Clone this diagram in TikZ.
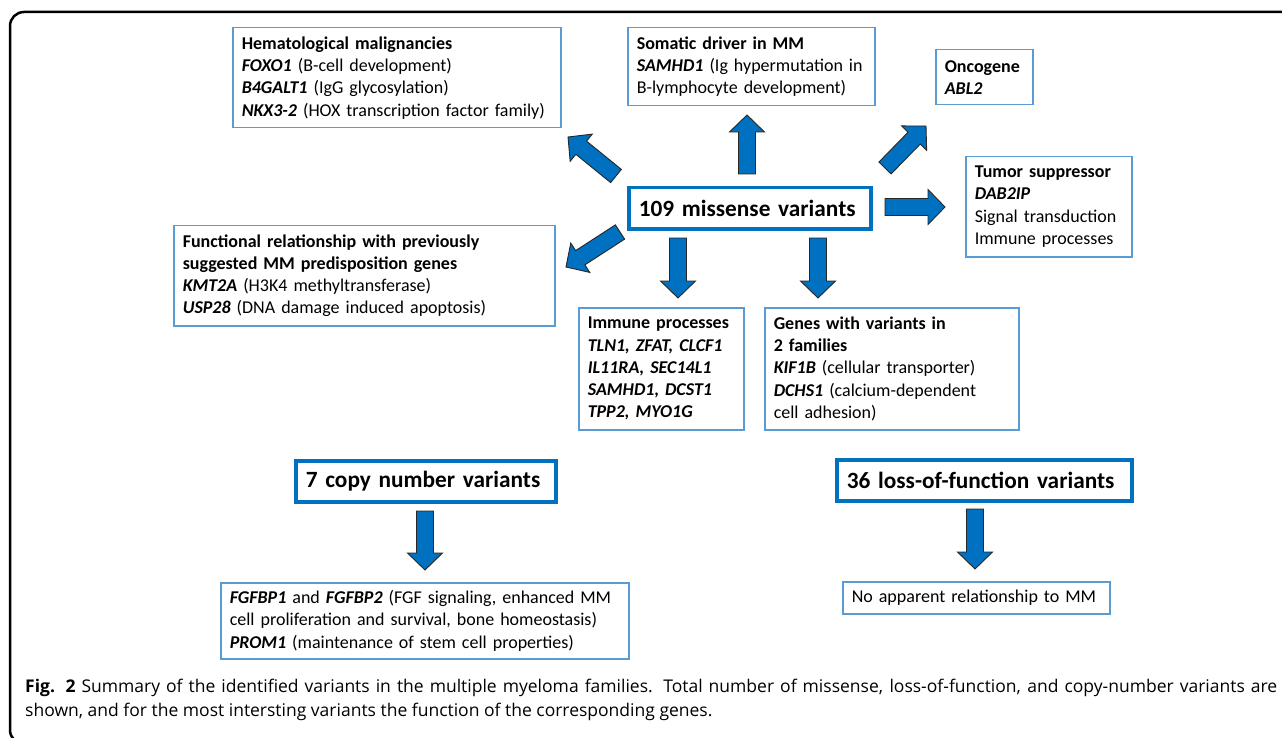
\documentclass[tikz,border=0pt]{standalone}
\usepackage{fontspec}
\setmainfont{Carlito}
\newfontfamily\capfont{Open Sans}
\usetikzlibrary{calc}
\definecolor{boxblue}{HTML}{5B9BD5}
\definecolor{darkblue}{HTML}{0070C0}
\definecolor{arrowblue}{HTML}{0070C0}

\newcommand{\gene}[1]{\textbf{\textit{#1}}}
% block arrow from #1 (tail) to #2 (tip)
\newcommand{\bigarrow}[2]{%
  \draw[blockarr] ($(#1)!8.5pt!90:(#2)$)
    -- ($(#2)!17pt!(#1)!8.5pt!90:(#2)$) -- ($(#2)!17pt!(#1)!17.5pt!90:(#2)$)
    -- (#2)
    -- ($(#2)!17pt!(#1)!17.5pt!-90:(#2)$) -- ($(#2)!17pt!(#1)!8.5pt!-90:(#2)$)
    -- ($(#1)!8.5pt!-90:(#2)$) -- cycle;}

\begin{document}
\begin{tikzpicture}[x=1pt, y=-1pt,
  box/.style = {draw=boxblue, line width=1.5pt, fill=white, align=left, anchor=north west,
                inner xsep=9pt, inner ysep=0pt, font=\fontsize{18}{22.3}\selectfont},
  bigbox/.style = {draw=darkblue, line width=3.5pt, fill=white, align=left, anchor=north west,
                inner xsep=10pt, inner ysep=0pt, font=\fontsize{23.3}{27}\selectfont\bfseries},
  blockarr/.style = {draw=black!85, line width=0.9pt, fill=arrowblue}]

    \useasboundingbox (0,0) rectangle (1282,738);
    \clip (0,0) rectangle (1282,738);

    % frame
    \draw[line width=2.5pt, rounded corners=14pt] (10,12) rectangle (1300,744);

    % missense variants
    \node[bigbox, text width=222pt, minimum height=41pt] (miss) at (627,186) {109 missense variants};

    \node[box, text width=310pt, minimum height=100pt] (hema) at (232,27)
      {\textbf{Hematological malignancies}\\
       \gene{FOXO1} (B-cell development)\\
       \gene{B4GALT1} (IgG glycosylation)\\
       \gene{NKX3-2} (HOX transcription factor family)};
    \node[box, text width=229pt, minimum height=78pt] (soma) at (627,27)
      {\textbf{Somatic driver in MM}\\
       \gene{SAMHD1} (Ig hypermutation in\\
       B-lymphocyte development)};
    \node[box, text width=79pt, minimum height=55pt] (onco) at (935,49)
      {\textbf{Oncogene}\\ \gene{ABL2}};
    \node[box, text width=148pt, minimum height=100pt] (tumor) at (965,156)
      {\textbf{Tumor suppressor}\\
       \gene{DAB2IP}\\
       Signal transduction\\
       Immune processes};
    \node[box, text width=363pt, minimum height=100pt] (func) at (173,225)
      {\textbf{Functional relationship with previously}\\
       \textbf{suggested MM predisposition genes}\\
       \gene{KMT2A} (H3K4 methyltransferase)\\
       \gene{USP28} (DNA damage induced apoptosis)};
    \node[box, text width=147pt, minimum height=122pt] (immune) at (578,307)
      {\textbf{Immune processes}\\
       \gene{TLN1, ZFAT, CLCF1}\\
       \gene{IL11RA, SEC14L1}\\
       \gene{SAMHD1, DCST1}\\
       \gene{TPP2, MYO1G}};
    \node[box, text width=236pt, minimum height=122pt] (fam) at (764,307)
      {\textbf{Genes with variants in}\\
       \textbf{2 families}\\
       \gene{KIF1B} (cellular transporter)\\
       \gene{DCHS1} (calcium-dependent\\
       cell adhesion)};

    % copy number and loss-of-function variants
    \node[bigbox, text width=240pt, minimum height=41pt] (cnv) at (294,459) {7 copy number variants};
    \node[box, text width=390pt, minimum height=76pt] (fgf) at (220,582)
      {\gene{FGFBP1} and \gene{FGFBP2} (FGF signaling, enhanced MM\\
       cell proliferation and survival, bone homeostasis)\\
       \gene{PROM1} (maintenance of stem cell properties)};
    \node[bigbox, text width=275pt, minimum height=41pt] (lof) at (835,458) {36 loss-of-function variants};
    \node[box, text width=249pt, minimum height=32pt] (norel) at (842,581) {No apparent relationship to MM};

    % arrows
    \coordinate (hema-s) at (616,176);  \coordinate (hema-e) at (568,137);
    \coordinate (soma-s) at (747,174);  \coordinate (soma-e) at (747,115);
    \coordinate (onco-s) at (885,168);  \coordinate (onco-e) at (926,126);
    \coordinate (tumor-s) at (885,207); \coordinate (tumor-e) at (945,207);
    \coordinate (func-s) at (620,232);  \coordinate (func-e) at (566,267);
    \coordinate (immune-s) at (678,238); \coordinate (immune-e) at (678,298);
    \coordinate (fam-s) at (818,238);   \coordinate (fam-e) at (818,298);
    \coordinate (cnv-s) at (425,511);   \coordinate (cnv-e) at (425,570);
    \coordinate (lof-s) at (975,509);   \coordinate (lof-e) at (975,569);
    \foreach \t in {hema,soma,onco,tumor,func,immune,fam,cnv,lof}
      {\bigarrow{\t-s}{\t-e}}

    % caption
    \node[anchor=north west, inner sep=0pt, text width=1252pt, align=justify,
          font=\capfont\fontsize{17.5}{24}\selectfont] (cap) at (25,679)
      {\textbf{Fig. 2} Summary of the identified variants in the multiple myeloma families. Total number of missense, loss-of-function, and copy-number variants are\linebreak
       shown, and for the most intersting variants the function of the corresponding genes.};

\end{tikzpicture}
\end{document}
